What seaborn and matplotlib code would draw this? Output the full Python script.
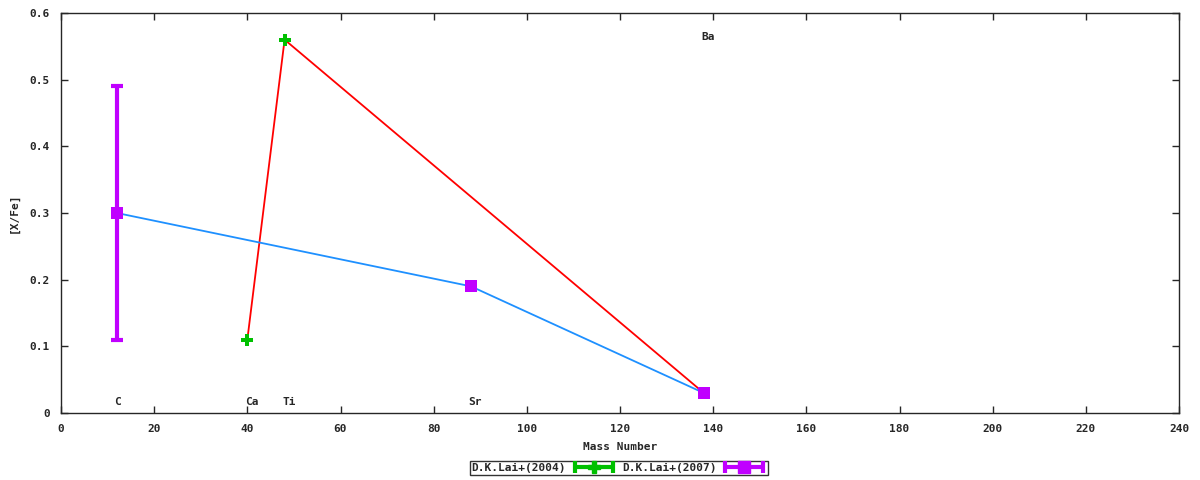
import numpy as np
import pandas as pd
import matplotlib
matplotlib.use("Agg")
import matplotlib.pyplot as plt
import seaborn as sns
from matplotlib.lines import Line2D
from matplotlib.legend_handler import HandlerLine2D

# data
lai04_mass = [40, 48, 138]
lai04_xfe = [0.11, 0.56, 0.03]

lai07_mass = [12, 88, 138]
lai07_xfe = [0.30, 0.19, 0.03]
lai07_lo = [0.11, 0.19, 0.03]
lai07_hi = [0.49, 0.19, 0.03]

elem_names = ["C", "Ca", "Ti", "Sr", "Ba"]
elem_mass = [12, 40, 48, 88, 138]
elem_ypos = [0.017, 0.017, 0.017, 0.017, 0.564]

xticks = list(range(0, 241, 20))
yticks = [0, 0.1, 0.2, 0.3, 0.4, 0.5, 0.6]

df04 = pd.DataFrame({"mass": lai04_mass, "xfe": lai04_xfe})
df07 = pd.DataFrame({"mass": lai07_mass, "xfe": lai07_xfe,
                     "lo": lai07_lo, "hi": lai07_hi})

sns.set_style("ticks")
plt.rcParams["font.family"] = ["DejaVu Sans Mono"]
plt.rcParams["font.weight"] = "bold"

fig = plt.figure(figsize=(12, 4.8), dpi=100)
ax = fig.add_axes([61 / 1200, 1 - 413 / 480, 1118 / 1200, 400 / 480])

green = "#00c000"
purple = "#c000ff"

# connecting lines
sns.lineplot(data=df04, x="mass", y="xfe", color="red", linewidth=1.3,
             sort=False, ax=ax, zorder=2)
sns.lineplot(data=df07, x="mass", y="xfe", color="#1e90ff", linewidth=1.3,
             sort=False, ax=ax, zorder=2)

# error bars + markers
yerr = [df07["xfe"] - df07["lo"], df07["hi"] - df07["xfe"]]
ax.errorbar(df07["mass"], df07["xfe"], yerr=yerr, fmt="none", ecolor=purple,
            elinewidth=3, capsize=4, capthick=3, zorder=3)
sns.scatterplot(data=df04, x="mass", y="xfe", marker="P", s=70, color=green,
                edgecolor=green, linewidth=0, ax=ax, zorder=4)
sns.scatterplot(data=df07, x="mass", y="xfe", marker="s", s=75, color=purple,
                edgecolor=purple, linewidth=0, ax=ax, zorder=5)

for name, m, yp in zip(elem_names, elem_mass, elem_ypos):
    ax.text(m - 0.5, yp, name, fontsize=8, fontweight="bold", ha="left",
            va="center", family="DejaVu Sans Mono")

ax.set_xlim(0, 240)
ax.set_ylim(0, 0.6)
ax.set_xticks(xticks)
ax.set_yticks(yticks)
ax.set_yticklabels(["0", "0.1", "0.2", "0.3", "0.4", "0.5", "0.6"])
ax.tick_params(direction="in", top=True, right=True, length=5, width=1,
               labelsize=8, pad=8)
for s in ax.spines.values():
    s.set_linewidth(1)
ax.set_xlabel("Mass Number", fontsize=8, fontweight="bold", labelpad=6)
ax.set_ylabel("[X/Fe]", fontsize=8, fontweight="bold", labelpad=8)

# legend keys: horizontal bar with end caps and a marker in the middle
bar04 = Line2D([], [], color=green, linewidth=3, marker="|", markersize=9,
               markeredgewidth=3)
mk04 = Line2D([], [], linestyle="none", color=green, marker="P",
              markersize=8)
bar07 = Line2D([], [], color=purple, linewidth=3, marker="|", markersize=9,
               markeredgewidth=3)
mk07 = Line2D([], [], linestyle="none", color=purple, marker="s",
              markersize=8)
leg = fig.legend([(bar04, mk04), (bar07, mk07)],
                 ["D.K.Lai+(2004)", "D.K.Lai+(2007)"],
                 handler_map={mk04: HandlerLine2D(numpoints=1),
                              mk07: HandlerLine2D(numpoints=1)},
                 numpoints=2,
                 loc="center", bbox_to_anchor=(619 / 1200, 1 - 468 / 480),
                 ncol=2, markerfirst=False, frameon=True, fancybox=False,
                 fontsize=8, handlelength=4.0, columnspacing=0.5,
                 handletextpad=0.5, borderpad=0.15, borderaxespad=0)
leg.get_frame().set_edgecolor("black")
leg.get_frame().set_linewidth(1)

fig.savefig("out.png", dpi=100)
